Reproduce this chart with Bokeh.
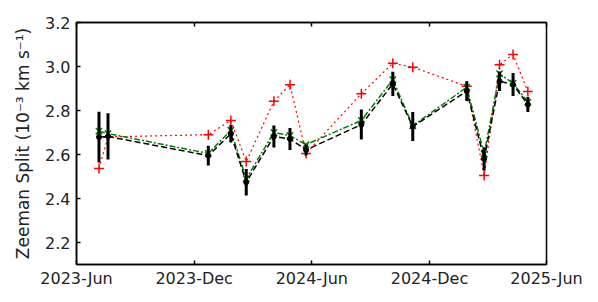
import pandas as pd
from bokeh.plotting import figure
from bokeh.models import (DatetimeAxis, FixedTicker, DatetimeTickFormatter, Range1d,
                          NumeralTickFormatter)
from bokeh.embed import file_html
from bokeh.resources import INLINE

dates = ["2023-07-06", "2023-07-20", "2023-12-23", "2024-01-27", "2024-02-20",
         "2024-04-03", "2024-04-28", "2024-05-23", "2024-08-17", "2024-10-05",
         "2024-11-05", "2025-01-28", "2025-02-24", "2025-03-20", "2025-04-10",
         "2025-05-03"]
black_vals = [2.679, 2.682, 2.595, 2.694, 2.474, 2.682, 2.671, 2.621, 2.736, 2.921,
              2.727, 2.888, 2.580, 2.933, 2.918, 2.827]
black_err = [0.115, 0.105, 0.045, 0.040, 0.060, 0.050, 0.050, 0.025, 0.068, 0.055,
             0.066, 0.045, 0.053, 0.044, 0.052, 0.034]
green_vals = [2.706, 2.695, 2.605, 2.710, 2.490, 2.700, 2.686, 2.645, 2.755, 2.940,
              2.730, 2.906, 2.603, 2.967, 2.924, 2.838]
red_vals = [2.536, 2.680, 2.690, 2.755, 2.568, 2.842, 2.917, 2.605, 2.876, 3.015,
            2.997, 2.910, 2.505, 3.008, 3.055, 2.886]
x_ticks = ["2023-06-01", "2023-12-01", "2024-06-01", "2024-12-01", "2025-06-01"]
y_ticks = [2.2, 2.4, 2.6, 2.8, 3.0, 3.2]

x = pd.to_datetime(dates)
lo = [v - e for v, e in zip(black_vals, black_err)]
hi = [v + e for v, e in zip(black_vals, black_err)]
tick_ms = [pd.Timestamp(t).value / 1e6 for t in x_ticks]

FONT = "DejaVu Sans"
p = figure(width=590, height=294, output_backend="svg", toolbar_location=None,
           x_axis_type="datetime",
           x_range=Range1d(pd.Timestamp("2023-06-01"), pd.Timestamp("2025-06-01")),
           y_range=Range1d(2.1, 3.2),
           min_border_left=76, min_border_top=22, min_border_right=44, min_border_bottom=30)
p.grid.visible = False
p.outline_line_color = "black"
p.outline_line_width = 1.5
p.background_fill_color = "white"

fmt = DatetimeTickFormatter(days="%Y-%b", months="%Y-%b", years="%Y-%b",
                            hours="%Y-%b", minutes="%Y-%b")
xa = p.xaxis[0]
xa.ticker = FixedTicker(ticks=tick_ms)
xa.formatter = fmt
ya = p.yaxis[0]
ya.ticker = FixedTicker(ticks=y_ticks)
ya.formatter = NumeralTickFormatter(format="0.0")
ya.axis_label = "Zeeman Split (10⁻³ km s⁻¹)"

for ax in (xa, ya):
    ax.major_tick_in = 4
    ax.major_tick_out = 0
    ax.minor_tick_line_color = None
    ax.axis_line_width = 1.5
    ax.major_tick_line_width = 1.5
    ax.major_label_text_font = FONT
    ax.major_label_text_font_size = "16px"
    ax.major_label_text_color = "#222222"
    ax.axis_label_text_font = FONT
    ax.axis_label_text_font_size = "17px"
    ax.axis_label_text_font_style = "normal"
    ax.axis_label_text_color = "#222222"
ya.major_label_standoff = 6
ya.axis_label_standoff = 9
xa.major_label_standoff = 4

top = DatetimeAxis(ticker=FixedTicker(ticks=tick_ms),
                   major_label_overrides={t: "" for t in tick_ms},
                   major_tick_in=4, major_tick_out=0, minor_tick_line_color=None,
                   major_label_standoff=0, axis_line_width=1.5,
                   major_tick_line_width=1.5)
p.add_layout(top, "above")

p.line(x, red_vals, line_color="red", line_dash="2 3", line_width=1.2)
p.scatter(x, red_vals, marker="cross", size=10, line_color="red", line_width=1.5)
p.line(x, green_vals, line_color="green", line_dash="6 2 2 2", line_width=1.5)
p.scatter(x, green_vals, marker="x", size=9, line_color="green", line_width=1.5)
p.line(x, black_vals, line_color="black", line_dash="6 3", line_width=1.5)
p.segment(x0=x, y0=lo, x1=x, y1=hi, line_color="black", line_width=3)
p.scatter(x, black_vals, marker="circle", size=5, fill_color="black", line_color="black")

open("out.html", "w").write(file_html(p, INLINE))
